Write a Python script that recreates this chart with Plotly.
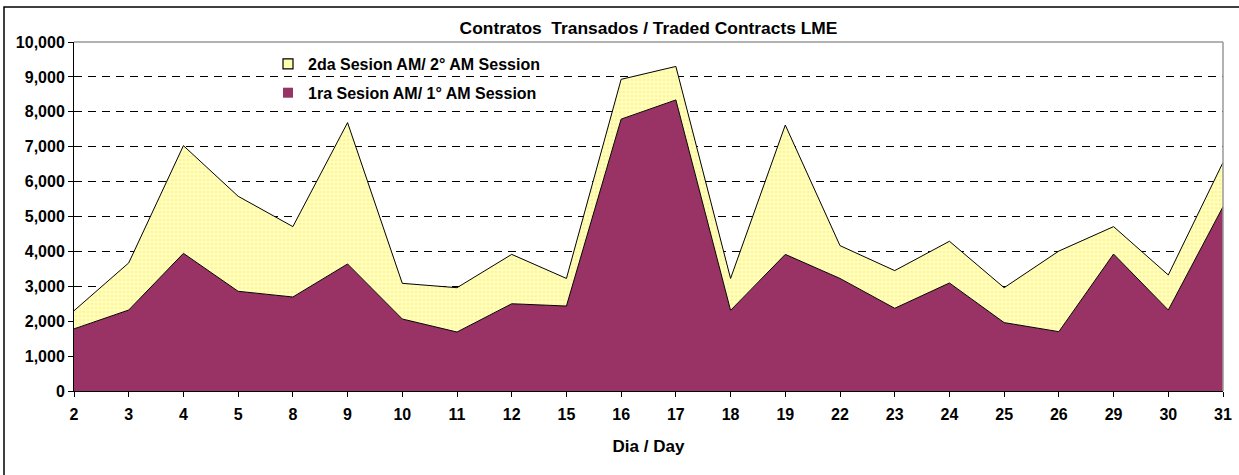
import plotly.graph_objects as go

days = ["2", "3", "4", "5", "8", "9", "10", "11", "12", "15", "16", "17",
        "18", "19", "22", "23", "24", "25", "26", "29", "30", "31"]
totals = [2300, 3670, 7030, 5580, 4710, 7690, 3085, 2960, 3915, 3225, 8930, 9300,
          3225, 7620, 4165, 3450, 4290, 2960, 4010, 4710, 3325, 6550]
session1 = [1780, 2320, 3945, 2857, 2693, 3640, 2063, 1690, 2500, 2435, 7790, 8340,
            2310, 3915, 3225, 2370, 3095, 1960, 1700, 3925, 2320, 5280]
session2 = [t - s for t, s in zip(totals, session1)]

name1 = "1ra Sesion AM/ 1° AM Session"
name2 = "2da Sesion AM/ 2° AM Session"

FONT = "Liberation Sans, Arial, sans-serif"
MAROON = "#993366"

fig = go.Figure()
fig.add_trace(go.Scatter(
    x=days, y=session1, name=name1, stackgroup="s", mode="lines",
    line=dict(color="black", width=1), fillcolor=MAROON, showlegend=False,
))
fig.add_trace(go.Scatter(
    x=days, y=session2, name=name2, stackgroup="s", mode="lines",
    line=dict(color="black", width=1), fillcolor="#FFFFCC", showlegend=False,
    fillpattern=dict(shape=".", fgcolor="#FFEE55", bgcolor="#FFFFCC", size=4, solidity=0.5),
))
# legend entries (square swatches)
fig.add_trace(go.Scatter(
    x=[None], y=[None], mode="markers", name="<b>" + name2 + "</b>", legendgroup="a",
    marker=dict(symbol="square", size=10, color="#FFFFB0", line=dict(color="black", width=1.2)),
))
fig.add_trace(go.Scatter(
    x=[None], y=[None], mode="markers", name="<b>" + name1 + "</b>", legendgroup="b",
    marker=dict(symbol="square", size=10, color=MAROON, line=dict(width=0)),
))

W, H = 1239, 475
L, R, T, B = 74, 16, 42, 84
pw, ph = W - L - R, H - T - B

def px(x):
    return (x - L) / pw

def py(y):
    return (H - B - y) / ph

fig.update_layout(
    width=W, height=H,
    margin=dict(l=L, r=R, t=T, b=B),
    paper_bgcolor="white", plot_bgcolor="white",
    font=dict(family=FONT, size=16, color="black"),
    title=dict(text="<b>Contratos  Transados / Traded Contracts LME</b>",
               x=0.5, xref="paper", xanchor="center", y=1 - 28 / H, yanchor="middle",
               font=dict(family=FONT, size=17.4, color="black")),
    showlegend=True,
    legend=dict(x=px(268), y=py(47), xanchor="left", yanchor="top",
                bgcolor="rgba(0,0,0,0)", traceorder="grouped",
                font=dict(family=FONT, size=16, color="black"),
                tracegroupgap=5, itemwidth=30),
    xaxis=dict(
        type="category", range=[0, len(days) - 1], automargin=False,
        showgrid=False, showline=True, linecolor="black", linewidth=1,
        ticks="outside", ticklen=5, tickcolor="black", ticklabelstandoff=4,
        tickfont=dict(family=FONT, size=16, color="black"),
        title=dict(text="<b>Dia / Day</b>", font=dict(family=FONT, size=17, color="black"), standoff=17),
        tickprefix="<b>", ticksuffix="</b>",
    ),
    yaxis=dict(
        range=[0, 10000], dtick=1000, tickformat=",", automargin=False,
        showgrid=True, gridcolor="black", gridwidth=1, griddash="8px,6px",
        showline=True, linecolor="black", linewidth=1,
        ticks="outside", ticklen=5, tickcolor="black",
        tickfont=dict(family=FONT, size=16, color="black"),
        tickprefix="<b>", ticksuffix="</b>",
        zeroline=False,
    ),
    shapes=[
        dict(type="rect", xref="paper", yref="paper",
             x0=px(222), x1=px(612), y0=py(104), y1=py(50),
             line=dict(width=0), fillcolor="white", layer="between"),
        dict(type="line", xref="paper", yref="paper", x0=0, x1=1, y0=1, y1=1,
             line=dict(color="#999999", width=1.5), layer="above"),
        dict(type="line", xref="paper", yref="paper", x0=1, x1=1, y0=0, y1=1,
             line=dict(color="#999999", width=1.5), layer="above"),
        dict(type="rect", xref="paper", yref="paper",
             x0=px(4), x1=px(1250), y0=py(7), y1=py(490),
             line=dict(color="black", width=1.5), layer="above"),
    ],
)

fig.write_html("out.html", config={"displayModeBar": False},
               post_script="document.body.style.margin='0';")
